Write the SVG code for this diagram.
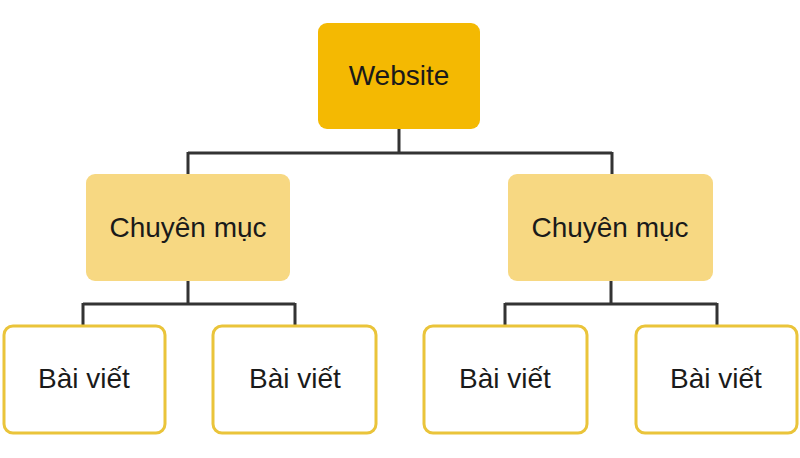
<svg xmlns="http://www.w3.org/2000/svg" width="800" height="458" viewBox="0 0 800 458">
<style>
.t{font-family:"Liberation Sans",Arial,sans-serif;font-size:28px;fill:#1a1a1a;text-anchor:middle}
.root{fill:#F4B902}
.cat{fill:#F7D882}
.post{fill:#ffffff;stroke:#EAC43A;stroke-width:3}
.c{fill:none;stroke:#333333;stroke-width:3}
</style>
<rect width="800" height="458" fill="#ffffff"/>
<g id="connectors">
<path class="c" d="M399 129 V153 M188 153 H612 M188 152 V174 M612 152 V174"/>
<path class="c" d="M188 281 V304 M83 304 H295 M83 303 V326 M295 303 V326"/>
<path class="c" d="M611 281 V304 M505 304 H717 M505 303 V326 M717 303 V326"/>
</g>
<g id="website">
<rect class="root" x="318" y="23" width="162" height="106" rx="9"/>
<text class="t" x="399" y="85">Website</text>
</g>
<g id="cat1">
<rect class="cat" x="86" y="174" width="204" height="107" rx="9"/>
<text class="t" x="188" y="237">Chuyên mục</text>
</g>
<g id="cat2">
<rect class="cat" x="508" y="174" width="205" height="107" rx="9"/>
<text class="t" x="610" y="237">Chuyên mục</text>
</g>
<g id="post1">
<rect class="post" x="4" y="326" width="161" height="107" rx="9"/>
<text class="t" x="84" y="388">Bài viết</text>
</g>
<g id="post2">
<rect class="post" x="213" y="326" width="163" height="107" rx="9"/>
<text class="t" x="295" y="388">Bài viết</text>
</g>
<g id="post3">
<rect class="post" x="424" y="326" width="163" height="107" rx="9"/>
<text class="t" x="505" y="388">Bài viết</text>
</g>
<g id="post4">
<rect class="post" x="636" y="326" width="161" height="107" rx="9"/>
<text class="t" x="716" y="388">Bài viết</text>
</g>
</svg>
